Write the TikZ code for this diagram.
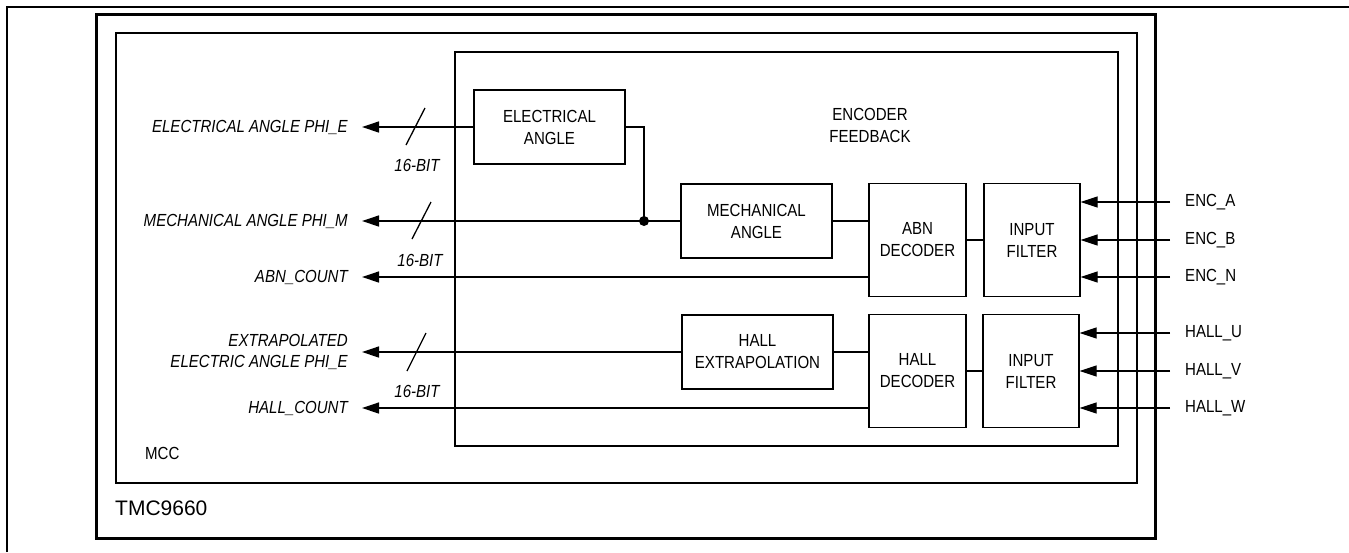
\documentclass[tikz,border=0pt]{standalone}
\usepackage{fontspec}
\setmainfont{Liberation Sans}[FakeStretch=0.86]
\newfontfamily\bigfont{Liberation Sans}
\usetikzlibrary{arrows.meta}
\begin{document}
\begin{tikzpicture}[x=1pt,y=-1pt,
  every node/.style={font=\fontsize{17.5}{22}\selectfont},
  blk/.style={draw,line width=1.3pt,align=center,inner sep=0pt},
  wide/.style={blk,minimum width=151pt,minimum height=74pt},
  tall/.style={blk,minimum width=97pt,minimum height=113pt},
  wire/.style={line width=1.3pt},
  arr/.style={wire,-{Triangle[length=17pt,width=11pt]}},
  outlbl/.style={anchor=east,inner xsep=14pt,inner ysep=0pt,align=right,font=\fontsize{17.5}{21}\selectfont\itshape},
  inlbl/.style={anchor=west,inner xsep=15pt,inner ysep=0pt},
  bitlbl/.style={font=\fontsize{17.5}{21}\selectfont\itshape,inner sep=0pt},
  slash/.style={line width=1.3pt}]
\useasboundingbox (0,0) rectangle (1349,552);
% page frame and enclosures
\draw[line width=2.5pt] (7,552) -- (7,7) -- (1349,7);
\draw[line width=3pt] (96,14) rectangle (1155,538);
\draw[line width=1.3pt] (116,33) rectangle (1137,483);
\draw[line width=1.3pt] (455,52) rectangle (1118,446);
\node[anchor=west,inner sep=0pt,font=\bigfont\fontsize{21}{24}\selectfont] (tmc) at (115,508) {TMC9660};
\node[anchor=west,inner sep=0pt] (mcc) at (145,453) {MCC};
\node[align=center,inner sep=0pt] (encfb) at (870,125) {ENCODER\\FEEDBACK};
% blocks
\node[wide] (elec) at (549.5,127) {ELECTRICAL\\ANGLE};
\node[wide] (mech) at (756.5,221) {MECHANICAL\\ANGLE};
\node[tall] (abn) at (917.5,240) {ABN\\DECODER};
\node[tall,minimum width=96pt] (inf1) at (1032,240) {INPUT\\FILTER};
\node[wide] (hallx) at (757.5,352) {HALL\\EXTRAPOLATION};
\node[tall] (halld) at (917.5,371) {HALL\\DECODER};
\node[tall,minimum width=96pt] (inf2) at (1031,371) {INPUT\\FILTER};
% left output labels
\node[outlbl] (oelec) at (362,127) {ELECTRICAL ANGLE PHI\_E};
\node[outlbl] (omech) at (362,221) {MECHANICAL ANGLE PHI\_M};
\node[outlbl] (oabn) at (362,277) {ABN\_COUNT};
\node[outlbl] (oext) at (362,352) {EXTRAPOLATED\\ELECTRIC ANGLE PHI\_E};
\node[outlbl] (ohall) at (362,408) {HALL\_COUNT};
% right input labels
\node[inlbl] (ia) at (1170,202) {ENC\_A};
\node[inlbl] (ib) at (1170,240) {ENC\_B};
\node[inlbl] (in) at (1170,277) {ENC\_N};
\node[inlbl] (hu) at (1170,333) {HALL\_U};
\node[inlbl] (hv) at (1170,371) {HALL\_V};
\node[inlbl] (hw) at (1170,408) {HALL\_W};
% 16-bit labels
\node[bitlbl] (b1) at (417,165) {16-BIT};
\node[bitlbl] (b2) at (420,260) {16-BIT};
\node[bitlbl] (b3) at (417,391) {16-BIT};
% junction
\coordinate (jn) at (644,221);
\fill (jn) circle (5pt);
% connectors
\draw[arr] (elec.west) -- (oelec.east);
\draw[wire] (elec.east) -| (jn);
\draw[arr] (mech.west) -- (omech.east);
\draw[wire] (mech.east) -- (abn.west |- mech.east);
\draw[arr] (abn.west |- oabn.east) -- (oabn.east);
\draw[wire] (abn.east) -- (inf1.west);
\draw[arr] (ia.west) -- (inf1.east |- ia.west);
\draw[arr] (ib.west) -- (inf1.east |- ib.west);
\draw[arr] (in.west) -- (inf1.east |- in.west);
\draw[arr] (hallx.west) -- (oext.east |- hallx.west);
\draw[wire] (hallx.east) -- (halld.west |- hallx.east);
\draw[arr] (halld.west |- ohall.east) -- (ohall.east);
\draw[wire] (halld.east) -- (inf2.west);
\draw[arr] (hu.west) -- (inf2.east |- hu.west);
\draw[arr] (hv.west) -- (inf2.east |- hv.west);
\draw[arr] (hw.west) -- (inf2.east |- hw.west);
% bus slashes
\draw[slash] (425,108) -- (406,145);
\draw[slash] (431,202) -- (412,239);
\draw[slash] (426,333) -- (407,371);
\end{tikzpicture}
\end{document}
